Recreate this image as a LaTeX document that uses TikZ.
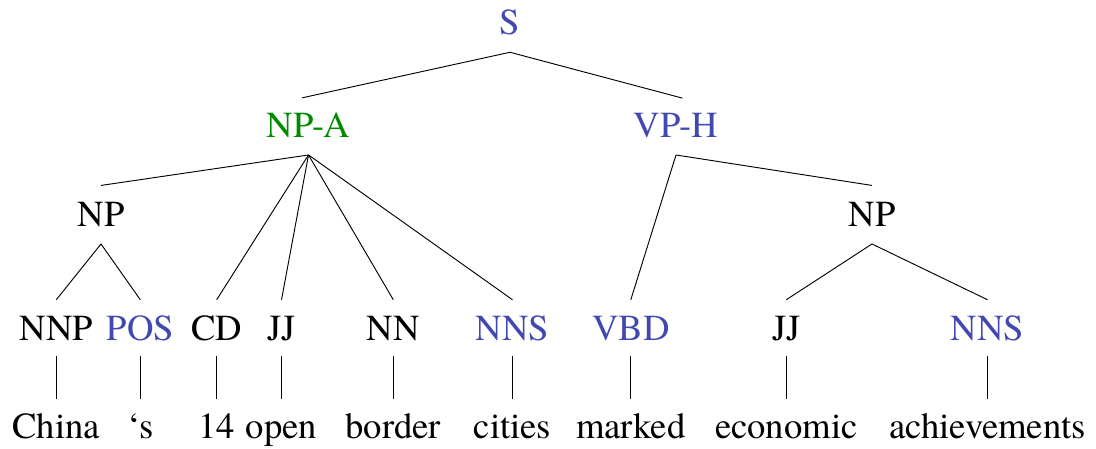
\documentclass[tikz,border=0pt]{standalone}
\usepackage{fontspec}
\newfontfamily\treefont{texgyretermes-regular.otf}
\definecolor{headblue}{RGB}{66,72,178}
\definecolor{argreen}{RGB}{0,140,0}
\begin{document}
\begin{tikzpicture}[x=0.75pt,y=-0.75pt,
  lbl/.style={anchor=base, font=\treefont\fontsize{27.5pt}{33pt}\selectfont,
              text height=18pt, text depth=0pt, inner xsep=0pt},
  phrase/.style={lbl, inner ysep=12.75pt},
  tag/.style={lbl, inner ysep=12pt},
  word/.style={lbl, inner ysep=11pt},
  head/.style={text=headblue},
  arg/.style={text=argreen},
  branch/.style={line width=0.7pt},
  rootbranch/.style={branch, shorten >=-5pt}]
\useasboundingbox (0,0) rectangle (1096,449);

% phrase levels
\node[phrase,head] (S)   at (510,35)    {S};
\node[phrase,arg]  (NPA) at (308.5,137.7) {NP-A};
\node[phrase,head] (VPH) at (676,137.7) {VP-H};
\node[phrase]      (NPl) at (101,226.7) {NP};
\node[phrase]      (NPr) at (872,226.7) {NP};

% part-of-speech tags
\node[tag]      (NNP)  at (56.3,340)  {NNP};
\node[tag,head] (POS)  at (140.3,340) {POS};
\node[tag]      (CD)   at (216.7,340) {CD};
\node[tag]      (JJa)  at (281.5,340) {JJ};
\node[tag]      (NN)   at (393.3,340) {NN};
\node[tag,head] (NNSa) at (512.5,340) {NNS};
\node[tag,head] (VBD)  at (630.8,340) {VBD};
\node[tag]      (JJb)  at (786.3,340) {JJ};
\node[tag,head] (NNSb) at (987.5,340) {NNS};

% words
\node[word] (w1) at (56.3,438)  {China};
\node[word] (w2) at (140.3,438) {‘s};
\node[word] (w3) at (216.7,438) {14};
\node[word] (w4) at (281.5,438) {open};
\node[word] (w5) at (393.3,438) {border};
\node[word] (w6) at (512.5,438) {cities};
\node[word] (w7) at (630.8,438) {marked};
\node[word] (w8) at (786.3,438) {economic};
\node[word] (w9) at (987.5,438) {achievements};

% branches
\draw[rootbranch] (S.south) -- (NPA.north);
\draw[rootbranch] (S.south) -- (VPH.north);
\draw[branch] (NPA.south) -- (NPl.north);
\draw[branch] (NPA.south) -- (CD.north);
\draw[branch] (NPA.south) -- (JJa.north);
\draw[branch] (NPA.south) -- (NN.north);
\draw[branch] (NPA.south) -- (NNSa.north);
\draw[branch] (VPH.south) -- (VBD.north);
\draw[branch] (VPH.south) -- (NPr.north);
\draw[branch] (NPl.south) -- (NNP.north);
\draw[branch] (NPl.south) -- (POS.north);
\draw[branch] (NPr.south) -- (JJb.north);
\draw[branch] (NPr.south) -- (NNSb.north);

\foreach \t/\w in {NNP/w1,POS/w2,CD/w3,JJa/w4,NN/w5,NNSa/w6,VBD/w7,JJb/w8,NNSb/w9}
  \draw[branch] (\t.south) -- (\w.north);
\end{tikzpicture}
\end{document}
